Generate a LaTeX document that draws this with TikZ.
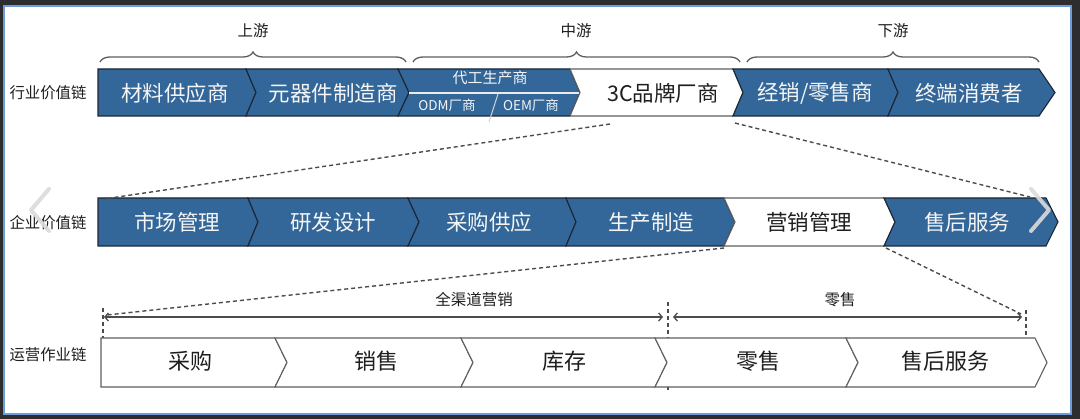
\documentclass[tikz,border=0pt]{standalone}
\usepackage{fontspec}
\setmainfont{Noto Sans CJK SC}
\usetikzlibrary{arrows.meta,decorations.pathreplacing}
\definecolor{cblue}{RGB}{51,102,153}
\definecolor{cedge}{RGB}{28,38,52}
\definecolor{cframe}{RGB}{45,45,48}
\definecolor{cline}{RGB}{110,155,220}
\definecolor{cgray}{RGB}{95,95,95}
\definecolor{ctext}{RGB}{30,30,30}
\newcommand{\chevron}[7]{\draw[#1] (#2,#4) -- (#3,#4) -- ({#3+#7},{(#4+#5)/2}) -- (#3,#5) -- (#2,#5) -- ({#2+#6},{(#4+#5)/2}) -- cycle;}
\begin{document}
\begin{tikzpicture}[x=1pt,y=-1pt,
  bluebox/.style={fill=cblue,draw=cedge,line width=1.1pt,line join=miter},
  whitebox/.style={fill=white,draw=cgray,line width=1.1pt,line join=miter},
  wtxt/.style={text=white!96!black,font=\fontsize{21.5}{22}\selectfont,inner sep=0pt},
  dtxt/.style={text=ctext,font=\fontsize{21.5}{22}\selectfont,inner sep=0pt},
  rtxt/.style={text=ctext,font=\fontsize{22}{23}\selectfont,inner sep=0pt},
  smalltxt/.style={text=white!96!black,font=\fontsize{15}{16}\selectfont,inner sep=0pt},
  tinytxt/.style={text=white!96!black,font=\fontsize{13.5}{14}\selectfont,inner sep=0pt},
  sidetxt/.style={text=ctext,font=\fontsize{15.4}{16}\selectfont,inner sep=0pt},
  toptxt/.style={text=ctext,font=\fontsize{15.5}{16}\selectfont,inner sep=0pt},
  zoomline/.style={draw=cgray!80!black,line width=1.4pt,dash pattern=on 4pt off 3pt},
  guide/.style={draw=cgray!80!black,line width=1.1pt,dash pattern=on 4pt off 3pt},
  span/.style={draw=cgray!80!black,line width=1.3pt,{Straight Barb[length=3.5pt,width=8pt]}-{Straight Barb[length=3.5pt,width=8pt]}},
  bracestyle/.style={draw=cgray,line width=1.3pt,decorate,decoration={brace,amplitude=10pt}},
  carousel/.style={draw=white!86!black,line width=4pt,line cap=round,line join=round,opacity=0.9}
]
\useasboundingbox (0,0) rectangle (1080,419);
% frame
\fill[cframe] (0,0) rectangle (1080,419);
\fill[white] (4,6) rectangle (1071,414);
\draw[cline,line width=1.5pt] (4,6) rectangle (1071,414);

% ---------- braces ----------
\draw[bracestyle] (100,62) -- (406,62);
\draw[bracestyle] (413,62) -- (740,62);
\draw[bracestyle] (747,62) -- (1039,62);
\node[toptxt] (up) at (253,31) {上游};
\node[toptxt] (mid) at (576,31) {中游};
\node[toptxt] (down) at (893,31) {下游};

% ---------- row 1 ----------
\node[sidetxt] (l1) at (48,93) {行业价值链};
\chevron{bluebox}{98}{246}{69}{116}{0}{10}
\chevron{bluebox}{246}{398}{69}{116}{10}{11}
\chevron{bluebox}{398}{570}{69}{116}{11}{10}
\chevron{whitebox}{570}{733}{69}{116}{10}{10}
\chevron{bluebox}{733}{888}{69}{116}{10}{10}
\chevron{bluebox}{888}{1039}{69}{116}{10}{16}
\draw[white!92!black,line width=1.3pt] (409,93) -- (579,93);
\draw[gray!35,line width=1pt] (498,94) -- (489,122);
\node[smalltxt] (r13) at (490,78) {代工生产商};
\node[tinytxt] (r13a) at (447,105) {ODM厂商};
\node[tinytxt] (r13b) at (531,105) {OEM厂商};
\node[wtxt] (r11) at (175,93) {材料供应商};
\node[wtxt] (r12) at (333,93) {元器件制造商};
\node[dtxt] (r14) at (663,93) {3C品牌厂商};
\node[wtxt] (r15) at (815,93) {经销/零售商};
\node[wtxt] (r16) at (969,93) {终端消费者};

% ---------- row 2 ----------
\node[sidetxt] (l2) at (48,223) {企业价值链};
\chevron{bluebox}{98}{248}{198}{246}{0}{10}
\chevron{bluebox}{248}{408}{198}{246}{10}{11}
\chevron{bluebox}{408}{566}{198}{246}{11}{10}
\chevron{bluebox}{566}{724}{198}{246}{10}{11}
\chevron{whitebox}{724}{884}{198}{246}{11}{11}
\chevron{bluebox}{884}{1046}{198}{246}{11}{12}
\node[wtxt] (r21) at (177,222) {市场管理};
\node[wtxt] (r22) at (333,222) {研发设计};
\node[wtxt] (r23) at (489,222) {采购供应};
\node[wtxt] (r24) at (651,222) {生产制造};
\node[dtxt] (r25) at (809,222) {营销管理};
\node[wtxt] (r26) at (967,222) {售后服务};

% zoom connectors row1 -> row2
\coordinate (z1a) at (610,124);
\coordinate (z1b) at (104,199);
\coordinate (z2a) at (735,123);
\coordinate (z2b) at (1030,197);
\draw[zoomline] (z1a) -- (z1b);
\draw[zoomline] (z2a) -- (z2b);

% ---------- row 3 ----------
\draw[guide] (103,308) -- (103,338);
\draw[guide] (668,302) -- (668,392);
\draw[guide] (1026,310) -- (1026,338);
\node[sidetxt] (l3) at (48,355) {运营作业链};
\chevron{whitebox}{101}{275}{338}{387}{0}{12}
\chevron{whitebox}{275}{461}{338}{387}{12}{12}
\chevron{whitebox}{461}{655}{338}{387}{12}{12}
\chevron{whitebox}{655}{846}{338}{387}{12}{12}
\chevron{whitebox}{846}{1035}{338}{387}{12}{12}
\node[rtxt] (r31) at (190,361) {采购};
\node[rtxt] (r32) at (376,361) {销售};
\node[rtxt] (r33) at (564,361) {库存};
\node[rtxt] (r34) at (758,361) {零售};
\node[rtxt] (r35) at (945,361) {售后服务};

% spans
\coordinate (s1a) at (104,317);
\coordinate (s1b) at (663,317);
\coordinate (s2a) at (673,317);
\coordinate (s2b) at (1022,317);
\draw[span] (s1a) -- (s1b);
\draw[span] (s2a) -- (s2b);
\node[toptxt] (qd) at (474,300) {全渠道营销};
\node[toptxt] (ls) at (840,300) {零售};

% zoom connectors row2 -> row3
\coordinate (z3a) at (724,248);
\coordinate (z3b) at (107,315);
\coordinate (z4a) at (886,248);
\coordinate (z4b) at (1021,314);
\draw[zoomline] (z3a) -- (z3b);
\draw[zoomline] (z4a) -- (z4b);

% carousel arrows (screenshot overlay)
\draw[carousel] (49,189) -- (31,210) -- (49,231);
\draw[carousel] (1031,189) -- (1049,210) -- (1031,231);
\end{tikzpicture}
\end{document}
